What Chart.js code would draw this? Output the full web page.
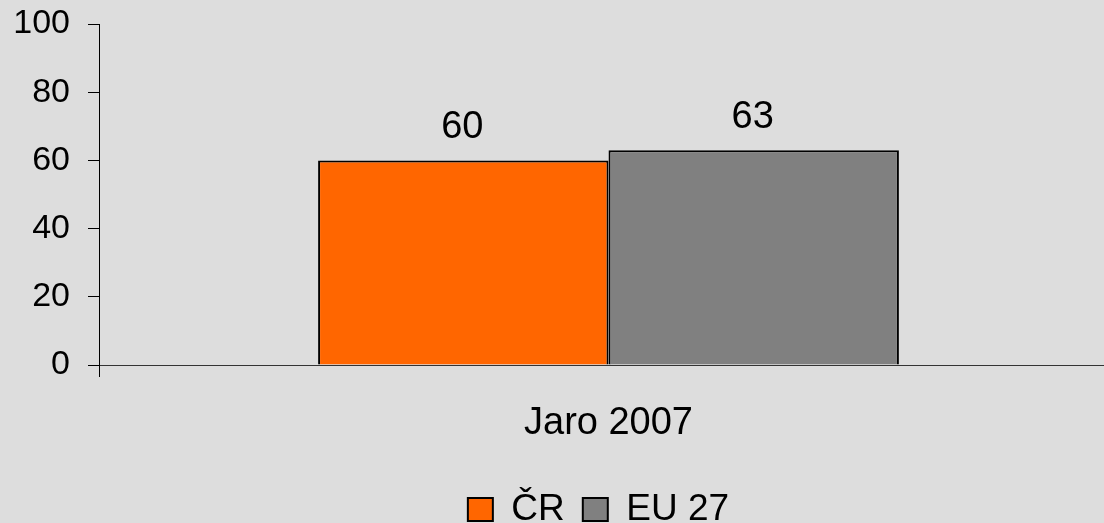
<!DOCTYPE html>
<html>
<head>
<meta charset="utf-8">
<script src="https://cdn.jsdelivr.net/npm/chart.js@4"></script>
<style>
  html, body { margin: 0; padding: 0; width: 1104px; height: 523px; overflow: hidden; background: #DDDDDD; }
  #wrap { width: 1118px; height: 538px; position: relative; }
  canvas { display: block; }
</style>
</head>
<body>
<div id="wrap"><canvas id="c" width="1118" height="538"></canvas></div>
<script>
const categories = ['Jaro 2007'];
const seriesNames = ['ČR', 'EU 27'];
const valuesCR = [60];
const valuesEU = [63];
const yTickValues = [0, 20, 40, 60, 80, 100];

const FONT = '"Liberation Sans", Arial, sans-serif';

const valueLabels = {
  id: 'valueLabels',
  afterDatasetsDraw(chart) {
    const ctx = chart.ctx;
    ctx.save();
    ctx.font = '38px ' + FONT;
    ctx.fillStyle = '#000';
    ctx.textAlign = 'center';
    ctx.textBaseline = 'alphabetic';
    chart.data.datasets.forEach((ds, i) => {
      const meta = chart.getDatasetMeta(i);
      meta.data.forEach((bar, j) => {
        ctx.fillText(String(ds.data[j]), bar.x - 1, bar.y - 22.5);
      });
    });
    ctx.restore();
  }
};

const legendShift = {
  id: 'legendShift',
  afterLayout(chart) {
    if (chart.legend) {
      chart.legend.left -= 10;
      chart.legend.right -= 10;
    }
  }
};

new Chart(document.getElementById('c'), {
  type: 'bar',
  data: {
    labels: categories,
    datasets: [
      { label: seriesNames[0], data: valuesCR, backgroundColor: '#FF6600', borderColor: '#000', borderWidth: 2,
        categoryPercentage: 0.57, barPercentage: 1.0 },
      { label: seriesNames[1], data: valuesEU, backgroundColor: '#808080', borderColor: '#000', borderWidth: 2,
        categoryPercentage: 0.57, barPercentage: 1.0 }
    ]
  },
  options: {
    responsive: false,
    animation: false,
    layout: { padding: { left: 0, top: 24, right: 0, bottom: 0 } },
    plugins: {
      legend: {
        position: 'bottom',
        fullSize: false,
        labels: {
          font: { family: FONT, size: 37 },
          color: '#000',
          boxWidth: 25,
          boxHeight: 23,
          padding: 18
        }
      },
      tooltip: { enabled: false }
    },
    scales: {
      x: {
        offset: true,
        afterFit(s) { s.height = 108; s.paddingLeft = 0; s.paddingRight = 0; },
        grid: { offset: true, drawOnChartArea: false, drawTicks: true, tickLength: 12, color: '#000', lineWidth: 1 },
        border: { display: true, color: '#333', width: 1 },
        ticks: { font: { family: FONT, size: 38 }, color: '#000', padding: 24 }
      },
      y: {
        min: 0,
        max: 100,
        afterFit(s) { s.width = 99; s.paddingTop = 0; s.paddingBottom = 0; },
        afterBuildTicks(s) { s.ticks = yTickValues.map(v => ({ value: v })); },
        grid: { drawOnChartArea: false, drawTicks: true, tickLength: 11, color: '#000', lineWidth: 1 },
        border: { display: true, color: '#000', width: 1 },
        ticks: { font: { family: FONT, size: 34 }, color: '#000', padding: 18 }
      }
    }
  },
  plugins: [valueLabels, legendShift]
});
</script>
</body>
</html>
